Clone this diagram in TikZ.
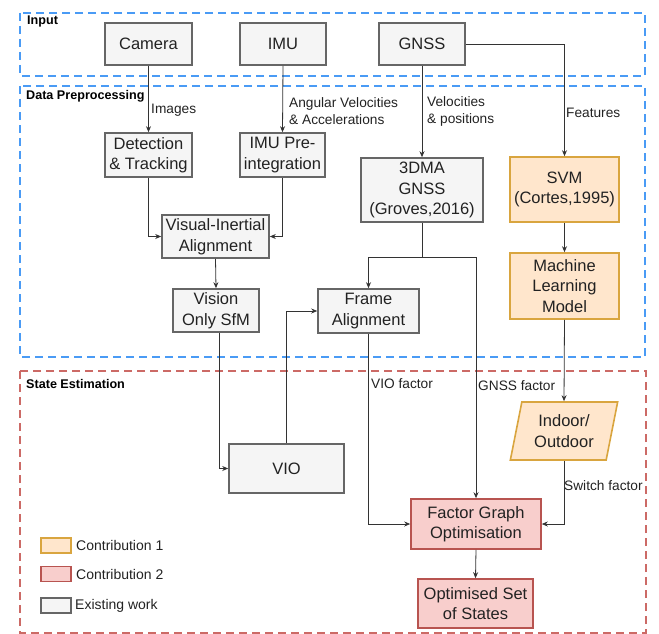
\documentclass[tikz,border=0pt]{standalone}
\usepackage{fontspec}
\setmainfont{Liberation Sans}
\usetikzlibrary{arrows.meta,shapes.geometric}
\definecolor{grayfill}{HTML}{F5F5F5}
\definecolor{grayline}{HTML}{666666}
\definecolor{orfill}{HTML}{FFE6CC}
\definecolor{orline}{HTML}{D9A53F}
\definecolor{rdfill}{HTML}{F8CECC}
\definecolor{rdline}{HTML}{B85450}
\definecolor{zoneblue}{HTML}{4A9BF5}
\definecolor{zonered}{HTML}{CC6A66}
\definecolor{lineclr}{HTML}{333333}
\definecolor{txt}{HTML}{222222}
\begin{document}
\begin{tikzpicture}[x=1pt,y=-1pt,
  box/.style={draw=grayline, fill=grayfill, line width=1.6pt, inner sep=0pt, align=center, text=txt, font=\fontsize{16.5}{20.5}\selectfont},
  obox/.style={box, draw=orline, fill=orfill},
  rbox/.style={box, draw=rdline, fill=rdfill},
  sz/.style 2 args={minimum width=#1pt, minimum height=#2pt},
  conn/.style={draw=lineclr, line width=0.8pt, -{Stealth[length=6pt,width=5pt]}},
  plain/.style={draw=lineclr, line width=0.8pt},
  lbl/.style={font=\fontsize{13.7}{17}\selectfont, align=left, anchor=west, inner sep=1pt, text=txt},
  sect/.style={font=\bfseries\fontsize{12.6}{15}\selectfont, anchor=west, inner sep=0pt, text=black},
  zone/.style={line width=1.8pt, dash pattern=on 8pt off 5pt},
  legtxt/.style={font=\fontsize{14}{17}\selectfont, anchor=west, inner sep=0pt, text=txt}
]
\useasboundingbox (0,0) rectangle (659,634);

% zones
\draw[zone, draw=zoneblue] (20,13) rectangle (645,76);
\draw[zone, draw=zoneblue] (20,86) rectangle (645,357);
\draw[zone, draw=zonered] (20,371) rectangle (646,633);
\node[sect] (tinput) at (27,21) {Input};
\node[sect] (tdata) at (26,96) {Data Preprocessing};
\node[sect] (tstate) at (26,384) {State Estimation};

% nodes
\node[box, sz={87}{42}] (camera) at (148.5,44) {Camera};
\node[box, sz={86}{42}] (imu) at (283,44) {IMU};
\node[box, sz={86}{42}] (gnss) at (422,44) {GNSS};
\node[box, sz={87}{44}] (det) at (148.5,155) {Detection\\\& Tracking};
\node[box, sz={85}{44}] (imupre) at (282.5,155) {IMU Pre-\\integration};
\node[box, sz={107}{43}] (via) at (215.5,236.5) {Visual-Inertial\\Alignment};
\node[box, sz={86}{43}] (sfm) at (216,310.5) {Vision\\Only SfM};
\node[box, sz={101}{44}] (frame) at (368.5,311) {Frame\\Alignment};
\node[box, sz={122}{64}] (dma) at (422,190) {3DMA\\GNSS\\(Groves,2016)};
\node[obox, sz={109}{65}] (svm) at (564.5,189.5) {SVM\\(Cortes,1995)};
\node[obox, sz={109}{66}] (ml) at (564.5,286) {Machine\\Learning\\Model};
\node[box, sz={115}{49}] (vio) at (286.5,468.5) {VIO};
\node[obox, trapezium, trapezium left angle=76, trapezium right angle=104, trapezium stretches=true, sz={108}{58}] (indoor) at (564,431) {Indoor/\\Outdoor};
\node[rbox, sz={130}{50}] (fgo) at (476,524) {Factor Graph\\Optimisation};
\node[rbox, sz={115}{49}] (opt) at (475.5,603.5) {Optimised Set\\of States};

% connectors
\draw[conn] (camera.south) -- (det.north);
\node[lbl] (limages) at (150,110) {Images};
\draw[conn] (imu.south) -- (imupre.north);
\node[lbl] (lang) at (288,111.5) {Angular Velocities\\\& Accelerations};
\draw[conn] (gnss.south) -- (dma.north);
\node[lbl] (lvel) at (426,111.5) {Velocities\\\& positions};
\draw[conn] (gnss.east) -| (svm.north);
\node[lbl] (lfeat) at (565,113) {Features};
\draw[conn] (det.south) |- (via.west);
\draw[conn] (imupre.south) |- (via.east);
\draw[conn] (via.south) -- (sfm.north);
\draw[conn] ([xshift=3pt]sfm.south) |- (vio.west);
\draw[conn] (vio.north) |- (frame.west);
\coordinate (split) at (422,257);
\draw[plain] (dma.south) -- (split);
\draw[conn] (split) -| (frame.north);
\draw[conn] (split) -| (fgo.north);
\node[lbl] (lgnssf) at (477,386) {GNSS factor};
\draw[conn] (frame.south) |- (fgo.west);
\node[lbl] (lviof) at (370,384) {VIO factor};
\draw[conn] (svm.south) -- (ml.north);
\draw[conn] (ml.south) -- (indoor.north);
\draw[conn] (indoor.south) |- (fgo.east);
\node[lbl] (lswitch) at (563,486) {Switch factor};
\draw[conn] (fgo.south) -- (opt.north);

% legend
\node[obox, sz={30}{15}, line width=1.4pt] (leg1) at (56,545.5) {};
\node[legtxt] (leg1t) at (76,545.5) {Contribution 1};
\node[rbox, sz={30}{15}, line width=1.4pt] (leg2) at (56,574) {};
\node[legtxt] (leg2t) at (76,574) {Contribution 2};
\node[box, sz={30}{15}, line width=1.4pt] (leg3) at (56,605.5) {};
\node[legtxt] (leg3t) at (75,605.5) {Existing work};
\end{tikzpicture}
\end{document}
